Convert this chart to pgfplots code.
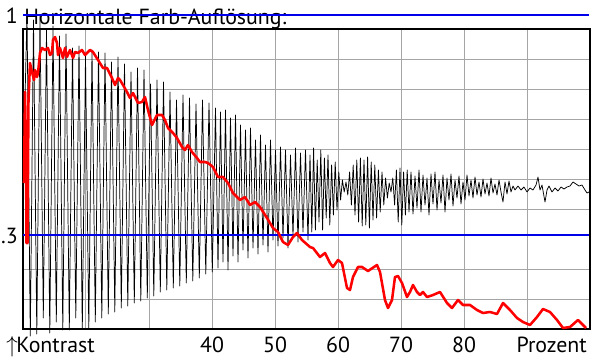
\documentclass[border=0pt]{standalone}
\usepackage{pgfplots}
\pgfplotsset{compat=1.18}
\usepackage{fontspec}
\setmainfont{PT Sans}
\definecolor{gridgray}{RGB}{165,165,165}
\definecolor{redline}{RGB}{255,0,0}
\definecolor{blueline}{RGB}{0,0,235}
\begin{document}
\begin{tikzpicture}
\begin{axis}[
 scale only axis, width=425.25pt, height=225pt,
 xmin=23, xmax=590, ymin=29, ymax=329, y dir=reverse,
 axis line style={line width=1.5pt, black},
 xtick={86,149,212,275,338,401,464,527},
 ytick={59,89,119,149,179,209,269,299},
 xticklabels={}, yticklabels={}, major tick length=0pt,
 grid=major, grid style={line width=0.75pt, color=gridgray},
 clip=false,
]
\coordinate (bbtl) at (axis cs:0,0);
\coordinate (bbbr) at (axis cs:600,364);
% black swept signal
\addplot[black, line width=0.55pt, line join=round] coordinates {
(23,185) (27,14) (30.3,336) (33.5,20) (36.8,334) (40,16) (43.3,318) (46.5,30) (49.8,333) (53,26) (56.3,322) (59.5,36) (62.8,330) (66,34) (69.3,330) (72.5,48) (75.8,318) (79,46) (82.3,329) (85.5,56) (88.8,329) (92,50) (95.3,322) (98.5,52) (101.8,318) (105,53) (108.3,314) (111.5,62) (114.8,312) (118,57) (121.3,308) (124.5,64) (127.8,306) (131,72) (134.3,303) (137.5,68) (140.8,301) (144,70) (147.3,298) (150.5,84) (153.8,296) (157,80) (160.3,292) (163.5,82) (166.8,290) (170,92) (173.3,288) (176.5,100) (179.8,286) (183,95) (186.3,283) (189.5,98) (192.8,281) (196,104) (199.3,278) (202.5,100) (205.8,274) (209,103) (212.3,272)
(215.5,108) (218,268) (220.5,112) (223,262) (225.5,110) (228,270) (230.5,118) (233,256) (235.5,115) (238,262) (240.5,125) (243,250) (245.5,130) (248,258) (250.5,128) (253,248) (255.5,140) (258,254) (260.5,135) (263,245) (265.5,145) (268,252) (270.5,140) (273,240) (275.5,150) (278,246) (280.5,147) (283,238) (285.5,150) (288,248) (290.5,155) (293,236) (295.5,148) (298,242) (300.5,153) (303,232) (305.5,150) (308,240)
(310,155) (311.8,232) (313.6,148) (315.4,230) (317.2,160) (319,222) (320.8,150) (322.6,230) (324.4,158) (326.2,218) (328,155) (329.8,225) (331.6,165) (333.4,215) (335.2,162) (337,210) (338.8,172) (340.6,200) (342.4,180) (344.2,192) (346,182) (347.8,195) (349.6,172) (351.4,205) (353.2,165) (355,215) (356.8,160) (358.6,222) (360.4,158) (362.2,226) (364,160) (365.8,225) (367.6,157) (369.4,228) (371.2,162) (373,220) (374.8,165) (376.6,218) (378.4,170) (380.2,212) (382,172) (383.8,205) (385.6,178) (387.4,198) (389.2,183) (391,192) (392.8,178) (394.6,205) (396.4,170) (398.2,222) (400,168) (401.8,225) (403.6,172) (405.4,215) (407.2,170) (409,212)
(411,172) (413,214) (415,176) (417,208) (419,170) (421,212) (423,175) (425,205) (427,178) (429,215) (431,174) (433,204) (435,172) (437,210) (439,180) (441,203) (443,175) (445,212) (447,178) (449,200) (451,174) (453,206) (455,180) (457,198) (459,176) (461,204) (463,182) (465,200) (467,175) (469,196) (471,180) (473,198) (475,177) (477,195) (479,182) (481,197) (483,179) (485,194) (487,183) (489,196) (491,178) (493,193) (495,184) (497,195) (499,180) (501,192) (503,202) (505,182) (507,194) (509,181) (511,192) (513,186) (515,190) (518,186) (521,190) (524,187) (527,192) (530,188) (533,190) (536,185) (538,177) (540,190) (542,185) (545,202) (547,190) (549,186) (552,192) (555,188) (558,191) (561,187) (564,189) (567,187) (570,186) (573,182) (576,184) (579,186) (582,185) (585,190) (587,193) (589,192)
};
% texts
\node[anchor=base west, inner sep=0pt, font=\fontsize{16.4}{17}\selectfont] at (axis cs:24,24) {Horizontale Farb-Auflösung:};
\node[anchor=base east, inner sep=0pt, font=\fontsize{16.4}{17}\selectfont] at (axis cs:18,23) {1};
\node[anchor=base east, inner sep=0pt, font=\fontsize{16.4}{17}\selectfont] at (axis cs:18,243) {.3};
\node[anchor=base west, inner sep=0pt, font=\fontsize{16.4}{17}\selectfont] at (axis cs:6,352) {$\uparrow$\kern-1ptKontrast};
\node[anchor=base, inner sep=0pt, font=\fontsize{16.4}{17}\selectfont] at (axis cs:212,352) {40};
\node[anchor=base, inner sep=0pt, font=\fontsize{16.4}{17}\selectfont] at (axis cs:275,352) {50};
\node[anchor=base, inner sep=0pt, font=\fontsize{16.4}{17}\selectfont] at (axis cs:338,352) {60};
\node[anchor=base, inner sep=0pt, font=\fontsize{16.4}{17}\selectfont] at (axis cs:401,352) {70};
\node[anchor=base, inner sep=0pt, font=\fontsize{16.4}{17}\selectfont] at (axis cs:464,352) {80};
\node[anchor=base east, inner sep=0pt, font=\fontsize{16.4}{17}\selectfont] at (axis cs:587,352) {Prozent};
% blue reference lines
\addplot[blueline, line width=1pt] coordinates {(23,15) (589,15)};
\addplot[blueline, line width=1pt] coordinates {(23,235) (589,235)};
% red curve
\addplot[redline, line width=1.9pt, line join=round] coordinates {
(24,183) (25,92) (26,150) (26.5,243) (27.5,243) (28.5,100) (30,63) (32,72) (34,80) (35,70) (37,77) (38,73) (40,53) (42,48) (45,50) (48,48) (50,55) (52,53) (53,40) (55,37) (57,43) (58,55) (60,48) (63,58) (65,48) (67,57) (70,50) (73,58) (75,52) (78,53) (82,50) (85,55) (90,50) (93,52) (98,60) (103,68) (107,68) (112,78) (115,85) (118,78) (120,80) (123,85) (127,92) (130,98) (133,93) (138,103) (142,102) (145,97) (148,110) (152,125) (157,115) (162,115) (165,120) (168,128) (173,133) (177,138) (182,147) (185,150) (188,145) (192,152) (197,158) (200,162) (205,162) (208,163) (213,167) (218,177) (223,177) (228,183) (233,193) (240,200) (245,197) (250,205) (255,202) (260,207) (267,218) (273,228) (278,232) (283,242) (288,245) (293,237) (297,233) (302,240) (310,247) (313,248) (320,257) (325,253) (330,263) (333,267) (338,260) (342,263) (347,288) (350,290) (353,277) (358,267) (362,267) (368,271) (377,265) (380,272) (385,300) (388,308) (392,300) (395,277) (398,276) (402,283) (407,297) (410,292) (413,285) (417,292) (420,295) (423,292) (427,297) (433,295) (440,292) (447,303) (452,308) (458,300) (463,305) (470,305) (477,310) (483,313) (490,312) (497,314) (503,303) (510,310) (517,318) (523,322) (530,325) (537,317) (543,309) (550,312) (557,320) (563,328) (570,327) (578,320) (583,325) (586,328)
};
\end{axis}
\pgfresetboundingbox
\path[use as bounding box] (bbtl) rectangle (bbbr);
\end{tikzpicture}
\end{document}
